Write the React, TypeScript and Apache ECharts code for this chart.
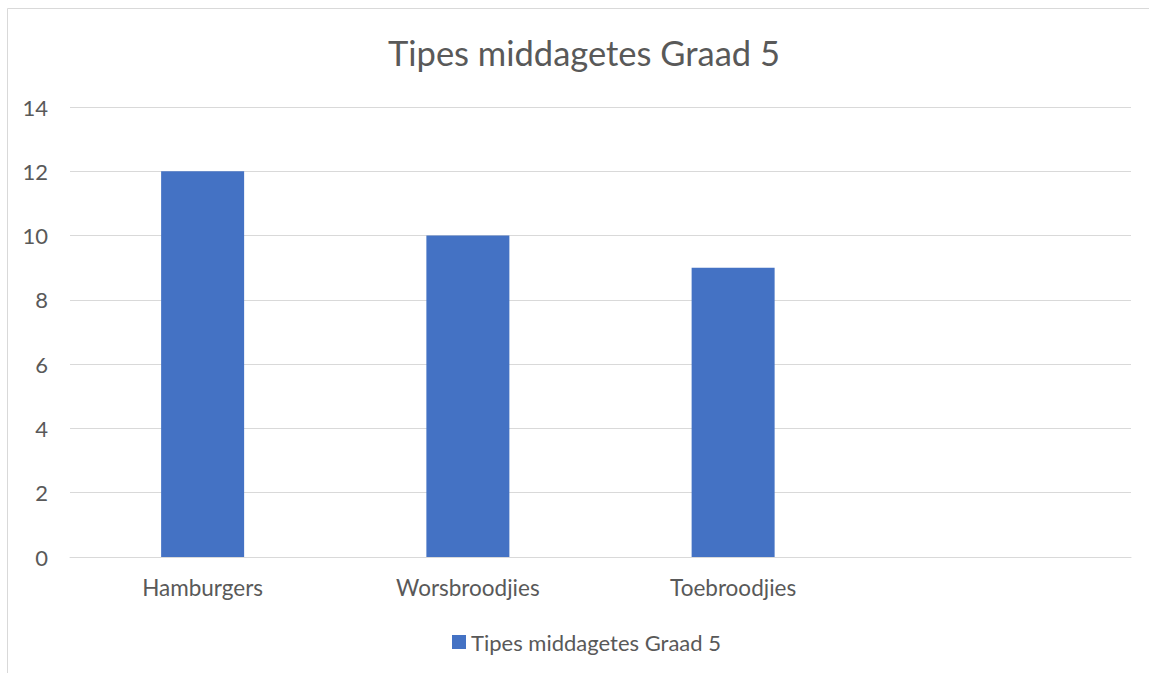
import React, { useEffect, useRef } from "react";
import * as echarts from "echarts";

const title = "Tipes middagetes Graad 5";
const categories = ["Hamburgers", "Worsbroodjies", "Toebroodjies", ""];
const values = [12, 10, 9, null];
const seriesName = "Tipes middagetes Graad 5";

const FONT = "Lato, 'Open Sans', sans-serif";
const TXT = "#595959";

export default function App() {
  const ref = useRef<HTMLDivElement>(null);
  useEffect(() => {
    document.body.style.margin = "0";
    const chart = echarts.init(ref.current!, null, { renderer: "svg" });
    chart.setOption({
      animation: false,
      backgroundColor: "#ffffff",
      title: {
        text: title,
        left: 383,
        top: 30,
        textStyle: { fontFamily: FONT, fontSize: 34.5, fontWeight: "normal", color: TXT },
      },
      legend: {
        bottom: 15,
        left: 447,
        itemWidth: 14,
        itemHeight: 14,
        itemGap: 20,
        icon: "rect",
        textStyle: { fontFamily: FONT, fontSize: 22, color: TXT, padding: [0, 0, 0, 0] },
        data: [seriesName],
      },
      graphic: [
        {
          type: "rect",
          shape: { x: 7.5, y: 8.5, width: 1200, height: 700 },
          style: { fill: "none", stroke: "#d9d9d9", lineWidth: 1 },
          silent: true,
        },
      ],
      grid: { left: 70, right: 18, top: 107, bottom: 116, containLabel: false },
      xAxis: {
        type: "category",
        data: categories,
        axisLine: { show: true, lineStyle: { color: "#d9d9d9", width: 1 } },
        axisTick: { show: false },
        axisLabel: { fontFamily: FONT, fontSize: 22.5, color: TXT, margin: 19 },
      },
      yAxis: {
        type: "value",
        min: 0,
        max: 14,
        interval: 2,
        axisLine: { show: false },
        axisTick: { show: false },
        splitLine: { lineStyle: { color: "#d9d9d9", width: 1 } },
        axisLabel: { fontFamily: FONT, fontSize: 22, color: TXT, margin: 22 },
      },
      series: [
        {
          name: seriesName,
          type: "bar",
          data: values,
          barWidth: 83,
          itemStyle: { color: "#4472c4" },
        },
      ],
    });
    return () => chart.dispose();
  }, []);
  return <div ref={ref} style={{ width: 1149, height: 673 }} />;
}
